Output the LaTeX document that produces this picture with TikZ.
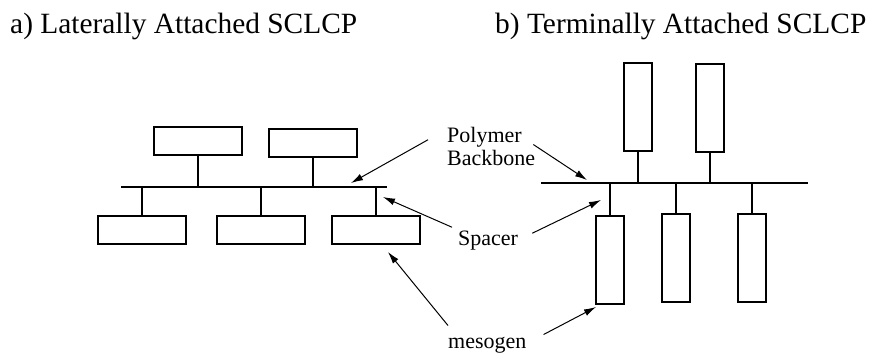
\documentclass[tikz,border=0pt]{standalone}
\usepackage{fontspec}
\setmainfont{Liberation Serif}
\usetikzlibrary{arrows.meta}

\tikzset{
  meso/.style={draw, line width=2pt, inner sep=0pt, minimum width=88pt, minimum height=28pt},
  mesoup/.style={draw, line width=2pt, inner sep=0pt, minimum width=28pt, minimum height=88pt},
  chain/.style={line width=2pt},
  title/.style={anchor=base west, inner sep=0pt, font=\fontsize{29.4}{30}\selectfont},
  tag/.style={anchor=base west, inner sep=0pt, font=\fontsize{22}{22}\selectfont},
  pointer/.style={line width=1pt, -{Latex[length=12pt,width=7pt]}}
}

\begin{document}
\begin{tikzpicture}[x=1pt, y=-1pt]
    % pixel grid, y grows downwards
    \useasboundingbox (0,0) rectangle (877,354);

    % headings
    \node[title] (lathead) at (10,33) {a) Laterally Attached SCLCP};
    \node[title] (termhead) at (495,33) {b) Terminally Attached SCLCP};

    % laterally attached
    %% backbone
    \coordinate (latl) at (121,187);
    \coordinate (latr) at (387,187);
    \draw[chain] (latl) -- (latr);
    %% mesogens above
    \node[meso] (lat1) at (198,141) {};
    \node[meso] (lat2) at (313,143) {};
    \draw[chain] (lat1.south) -- (lat1.south |- latl);
    \draw[chain] (lat2.south) -- (lat2.south |- latl);
    %% mesogens below
    \node[meso] (lab1) at (142,230) {};
    \node[meso] (lab2) at (261,230) {};
    \node[meso] (lab3) at (376,230) {};
    \draw[chain] (lab1.north) -- (lab1.north |- latl);
    \draw[chain] (lab2.north) -- (lab2.north |- latl);
    \draw[chain] (lab3.north) -- (lab3.north |- latl);

    % terminally attached
    %% backbone
    \coordinate (terml) at (541,183);
    \coordinate (termr) at (808,183);
    \draw[chain] (terml) -- (termr);
    %% mesogens above
    \node[mesoup] (tat1) at (638,107) {};
    \node[mesoup] (tat2) at (710,108) {};
    \draw[chain] (tat1.south) -- (tat1.south |- terml);
    \draw[chain] (tat2.south) -- (tat2.south |- terml);
    %% mesogens below
    \node[mesoup] (tab1) at (610,260) {};
    \node[mesoup] (tab2) at (676,258) {};
    \node[mesoup] (tab3) at (752,258) {};
    \draw[chain] (tab1.north) -- (tab1.north |- terml);
    \draw[chain] (tab2.north) -- (tab2.north |- terml);
    \draw[chain] (tab3.north) -- (tab3.north |- terml);

    % labels in the middle
    \node[tag] (poly) at (447,142) {Polymer};
    \node[tag] (bbone) at (447,165) {Backbone};
    \node[tag] (spacer) at (458,245) {Spacer};
    \node[tag] (meso) at (448,348) {mesogen};

    % arrow tips
    \coordinate (polyl) at (351,183);
    \coordinate (polyr) at (587,180);
    \coordinate (spacl) at (383,197);
    \coordinate (spacr) at (601,200);
    \coordinate (mesol) at (388,252);
    \coordinate (mesor) at (596,307);

    \draw[pointer] ([xshift=-19pt,yshift=-3pt]poly.west) -- (polyl);
    \draw[pointer] ([xshift=-2pt,yshift=5pt]bbone.north east) -- (polyr);
    \draw[pointer] ([xshift=-6pt,yshift=3pt]spacer.north west) -- (spacl);
    \draw[pointer] ([xshift=14pt,yshift=-3pt]spacer.north east) -- (spacr);
    \draw[pointer] ([yshift=11pt]meso.north west) -- (mesol);
    \draw[pointer] ([xshift=17pt,yshift=2pt]meso.north east) -- (mesor);
\end{tikzpicture}
\end{document}
